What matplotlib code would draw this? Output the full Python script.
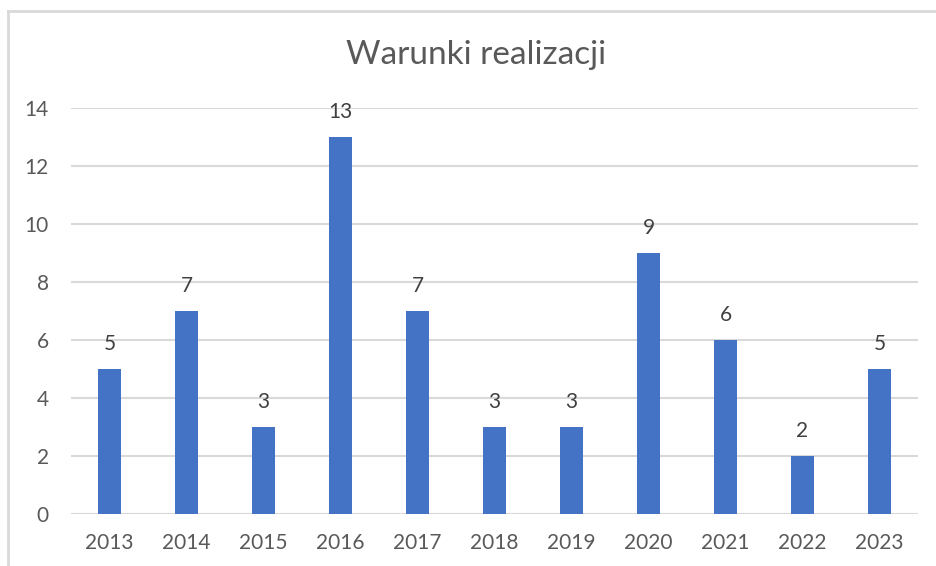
import matplotlib.pyplot as plt
from matplotlib.lines import Line2D

years = ['2013', '2014', '2015', '2016', '2017', '2018', '2019', '2020', '2021', '2022', '2023']
counts = [5, 7, 3, 13, 7, 3, 3, 9, 6, 2, 5]
y_ticks = [0, 2, 4, 6, 8, 10, 12, 14]

W, H = 936, 566
plt.rcParams['font.family'] = ['Lato', 'DejaVu Sans']

fig = plt.figure(figsize=(W / 100, H / 100), dpi=100)
ax = fig.add_axes([71 / W, 1 - 514 / H, (918 - 71) / W, (514 - 108) / H])

x = list(range(len(years)))
bars = ax.bar(x, counts, width=0.31, color='#4472c4', zorder=3)
ax.bar_label(bars, padding=11, fontsize=15, color='#404040')

ax.set_xlim(-0.5, len(years) - 0.5)
ax.set_ylim(0, 14)
ax.set_yticks(y_ticks)
ax.set_xticks(x, years)
ax.grid(axis='y', color='#d9d9d9', linewidth=1.5, zorder=0)
ax.tick_params(length=0, labelsize=15, labelcolor='#595959')
ax.tick_params(axis='x', pad=14)
ax.tick_params(axis='y', pad=16)
for s in ax.spines.values():
    s.set_visible(False)

fig.text(0.5 + 8 / W, 1 - 55 / H, 'Warunki realizacji', ha='center', va='center',
         fontsize=24, color='#595959')

# chart border (cropped on right and bottom)
bx, by = 8 / W, 1 - 11 / H
fig.add_artist(Line2D([bx, bx], [0, by], color='#d9d9d9', linewidth=2, transform=fig.transFigure))
fig.add_artist(Line2D([bx, 1], [by, by], color='#d9d9d9', linewidth=2, transform=fig.transFigure))

fig.savefig('out.png', dpi=100, facecolor='white')
